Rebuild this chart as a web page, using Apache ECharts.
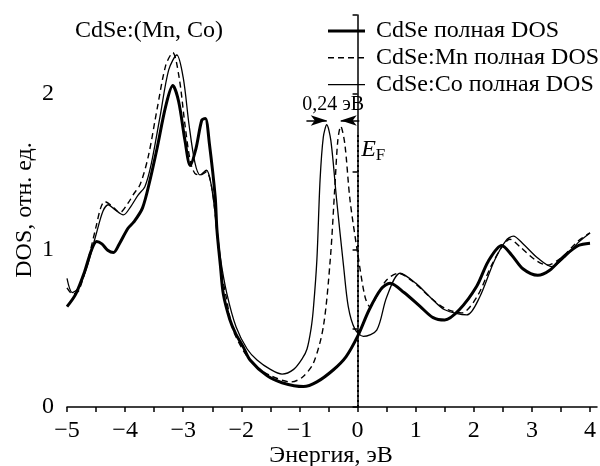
<!DOCTYPE html>
<html>
<head>
<meta charset="utf-8">
<script src="https://cdn.jsdelivr.net/npm/echarts@6/dist/echarts.min.js"></script>
<style>
  html, body { margin: 0; padding: 0; background: #fff; }
  #chart { width: 600px; height: 466px; }
</style>
</head>
<body>
<div id="chart"></div>
<script>
// energy (eV), DOS (arb. units)
const cdseDos = [
  [-5.0, 0.64], [-4.85, 0.72], [-4.7, 0.86], [-4.58, 1.0], [-4.49, 1.055], [-4.4, 1.04],
  [-4.3, 1.0], [-4.2, 0.985], [-4.1, 1.04], [-3.95, 1.14], [-3.85, 1.18], [-3.7, 1.27],
  [-3.57, 1.45], [-3.45, 1.65], [-3.3, 1.92], [-3.18, 2.05], [-3.08, 1.95], [-2.97, 1.7],
  [-2.88, 1.54], [-2.78, 1.65], [-2.68, 1.83], [-2.62, 1.84], [-2.55, 1.68], [-2.45, 1.34],
  [-2.42, 1.13], [-2.36, 0.9], [-2.31, 0.72], [-2.2, 0.56], [-2.1, 0.47], [-1.97, 0.385],
  [-1.85, 0.3], [-1.56, 0.2], [-1.3, 0.155], [-0.93, 0.13], [-0.7, 0.16], [-0.42, 0.236],
  [-0.2, 0.32], [0, 0.45], [0.2, 0.62], [0.4, 0.75], [0.56, 0.79], [0.8, 0.73],
  [1.08, 0.64], [1.3, 0.57], [1.5, 0.555], [1.75, 0.62], [2.05, 0.77], [2.25, 0.93],
  [2.48, 1.03], [2.65, 0.97], [2.85, 0.88], [3.1, 0.84], [3.3, 0.87], [3.55, 0.96],
  [3.8, 1.03], [4.0, 1.045]
]
const mnDos = [
  [-5.0, 0.76], [-4.9, 0.72], [-4.8, 0.74], [-4.65, 0.92], [-4.5, 1.15], [-4.42, 1.27],
  [-4.35, 1.31], [-4.22, 1.28], [-4.09, 1.24], [-3.95, 1.3], [-3.85, 1.36], [-3.74, 1.42],
  [-3.6, 1.6], [-3.45, 1.9], [-3.3, 2.18], [-3.18, 2.26], [-3.07, 2.1], [-2.97, 1.8],
  [-2.88, 1.57], [-2.8, 1.49], [-2.7, 1.48], [-2.6, 1.5], [-2.5, 1.38], [-2.43, 1.15],
  [-2.35, 0.88], [-2.26, 0.7], [-2.15, 0.5], [-1.95, 0.35], [-1.75, 0.26], [-1.5, 0.2],
  [-1.14, 0.16], [-0.95, 0.19], [-0.76, 0.28], [-0.59, 0.51], [-0.47, 0.94], [-0.39, 1.41],
  [-0.34, 1.7], [-0.29, 1.79], [-0.22, 1.68], [-0.13, 1.32], [0.01, 0.96], [0.13, 0.7],
  [0.215, 0.64], [0.35, 0.72], [0.5, 0.81], [0.7, 0.853], [0.95, 0.8], [1.25, 0.7],
  [1.5, 0.63], [1.79, 0.6], [2.05, 0.7], [2.3, 0.9], [2.5, 1.03], [2.62, 1.07],
  [2.8, 1.02], [3.05, 0.94], [3.26, 0.905], [3.5, 0.95], [3.8, 1.06], [4.0, 1.11]
]
const coDos = [
  [-5.0, 0.82], [-4.91, 0.73], [-4.8, 0.76], [-4.65, 0.9], [-4.5, 1.1], [-4.38, 1.25],
  [-4.29, 1.29], [-4.18, 1.26], [-4.03, 1.225], [-3.9, 1.28], [-3.78, 1.35], [-3.66, 1.405],
  [-3.55, 1.55], [-3.4, 1.85], [-3.25, 2.15], [-3.11, 2.245], [-3.0, 2.1], [-2.9, 1.8],
  [-2.8, 1.56], [-2.71, 1.48], [-2.6, 1.51], [-2.52, 1.42], [-2.44, 1.2], [-2.36, 0.95],
  [-2.25, 0.725], [-2.09, 0.51], [-1.9, 0.37], [-1.73, 0.3], [-1.5, 0.24], [-1.3, 0.21],
  [-1.1, 0.24], [-0.95, 0.31], [-0.87, 0.37], [-0.8, 0.5], [-0.76, 0.63], [-0.7, 0.94],
  [-0.645, 1.45], [-0.59, 1.72], [-0.53, 1.8], [-0.46, 1.7], [-0.36, 1.32], [-0.24, 0.895],
  [-0.16, 0.64], [-0.05, 0.5], [0.1, 0.45], [0.33, 0.49], [0.5, 0.7], [0.73, 0.853],
  [1.0, 0.79], [1.25, 0.7], [1.5, 0.62], [1.88, 0.587], [2.1, 0.7], [2.35, 0.93],
  [2.55, 1.06], [2.68, 1.09], [2.85, 1.04], [3.1, 0.95], [3.34, 0.895], [3.55, 0.95],
  [3.8, 1.05], [4.0, 1.11]
]

const xTicks = [-5, -4.5, -4, -3.5, -3, -2.5, -2, -1.5, -1, -0.5, 0, 0.5, 1, 1.5, 2, 2.5, 3, 3.5, 4]
const xLabels = [-5, -4, -3, -2, -1, 0, 1, 2, 3, 4]
const yTicks = [0, 0.5, 1, 1.5, 2, 2.5]
const yLabels = [0, 1, 2]
const seriesNames = ['CdSe полная DOS', 'CdSe:Mn полная DOS', 'CdSe:Co полная DOS']

// peak shift marker (0,24 эВ) and Fermi level
const shiftArrowY = 1.827
const shiftLeft = [-0.88, -0.53]
const shiftRight = [-0.29, 0.03]
const fermiTop = 1.74

const FONT = '"Liberation Serif", "DejaVu Serif", serif'
const chart = echarts.init(document.getElementById('chart'))

// hand-drawn legend (line sample + text), like the original figure
const legendStyles = [
  { width: 3, dash: null },
  { width: 1.4, dash: [6, 4] },
  { width: 1.3, dash: null },
]
const legendGraphic = []
seriesNames.forEach((name, i) => {
  const y = 31 + i * 26.8
  legendGraphic.push({
    type: 'line',
    shape: { x1: 328, y1: y, x2: 365, y2: y },
    style: { stroke: '#000', lineWidth: legendStyles[i].width, lineDash: legendStyles[i].dash },
  })
  legendGraphic.push({
    type: 'text', x: 376, y: y,
    style: { text: name, font: '24px ' + FONT, fill: '#000', verticalAlign: 'middle' },
  })
})

const lineSeries = (name, data, lineStyle, extra) => Object.assign({
  name: name,
  type: 'line',
  data: data,
  symbol: 'none',
  smooth: 0.3,
  lineStyle: lineStyle,
}, extra || {})

const option = {
  animation: false,
  textStyle: { fontFamily: FONT, color: '#000' },
  grid: { left: 67, right: 3, top: 15, bottom: 59 },
  xAxis: {
    type: 'value',
    min: -5,
    max: 4.12,
    axisLine: { onZero: false, lineStyle: { color: '#000', width: 1.5 } },
    axisTick: { customValues: xTicks, length: 5, lineStyle: { color: '#000', width: 1.5 } },
    axisLabel: {
      customValues: xLabels,
      fontSize: 24,
      margin: 12,
      color: '#000',
      fontFamily: FONT,
      formatter: (v) => (v < 0 ? '\u2212' + Math.abs(v) : String(v)),
    },
    splitLine: { show: false },
  },
  yAxis: {
    type: 'value',
    min: 0,
    max: 2.5,
    axisLine: { show: true, lineStyle: { color: '#000', width: 1.5 } },
    axisTick: { show: true, customValues: yTicks, length: 5, lineStyle: { color: '#000', width: 1.5 } },
    axisLabel: { customValues: yLabels, fontSize: 24, margin: 13, color: '#000', fontFamily: FONT },
    splitLine: { show: false },
  },
  graphic: [
    {
      type: 'text', left: 75, top: 19,
      style: { text: 'CdSe:(Mn, Co)', font: '24px ' + FONT, fill: '#000' },
    },
    {
      type: 'text', x: 25, y: 210, rotation: Math.PI / 2,
      style: { text: 'DOS, отн. ед.', font: '24px ' + FONT, fill: '#000', align: 'center', verticalAlign: 'middle' },
    },
    {
      type: 'text', x: 331, y: 456,
      style: { text: 'Энергия, эВ', font: '24px ' + FONT, fill: '#000', align: 'center', verticalAlign: 'middle' },
    },
  ].concat(legendGraphic),
  series: [
    lineSeries(seriesNames[0], cdseDos, { color: '#000', width: 3 }, {
      z: 3,
      markLine: {
        silent: true,
        symbol: 'none',
        label: { show: false },
        lineStyle: { color: '#000', type: [2, 3], width: 2 },
        data: [[{ coord: [0, 0] }, { coord: [0, fermiTop] }]],
      },
    }),
    lineSeries(seriesNames[1], mnDos, { color: '#000', width: 1.4, type: [6, 4] }),
    lineSeries(seriesNames[2], coDos, { color: '#000', width: 1.3 }, {
      markLine: {
        silent: true,
        symbol: ['none', 'arrow'],
        symbolSize: [8, 16],
        label: { show: false },
        lineStyle: { color: '#000', type: 'solid', width: 1.5 },
        data: [
          [{ coord: [shiftLeft[0], shiftArrowY] }, { coord: [shiftLeft[1], shiftArrowY] }],
          [{ coord: [shiftRight[1], shiftArrowY] }, { coord: [shiftRight[0], shiftArrowY] }],
        ],
      },
      markPoint: {
        silent: true,
        symbol: 'circle',
        symbolSize: 0,
        data: [
          {
            coord: [-0.42, 1.927],
            label: {
              show: true, position: 'inside', formatter: '0,24 эВ',
              fontFamily: FONT, fontSize: 20, color: '#000',
            },
          },
          {
            coord: [0.27, 1.64],
            label: {
              show: true, position: 'inside', formatter: '{e|E}{f|F}',
              rich: {
                e: { fontFamily: FONT, fontStyle: 'italic', fontSize: 24, color: '#000' },
                f: { fontFamily: FONT, fontSize: 17, color: '#000', padding: [12, 0, 0, 0] },
              },
            },
          },
        ],
      },
    }),
  ],
}

chart.setOption(option)
</script>
</body>
</html>
